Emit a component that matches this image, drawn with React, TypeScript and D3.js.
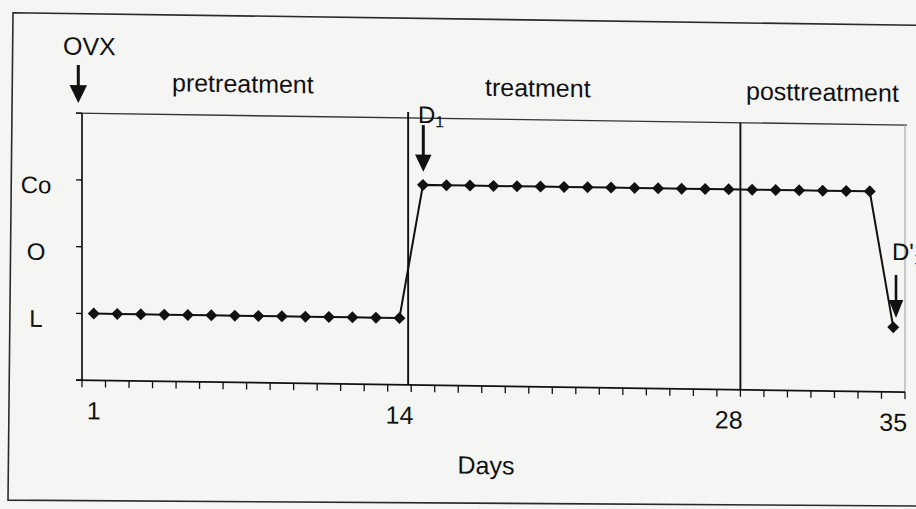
import React from 'react';
import * as d3 from 'd3';

// ---- data ----
const days = [1,2,3,4,5,6,7,8,9,10,11,12,13,14,15,16,17,18,19,20,21,22,23,24,25,26,27,28,29,30,31,32,33,34,35];
const values = [1,1,1,1,1,1,1,1,1,1,1,1,1,1, 3,3,3,3,3,3,3,3,3,3,3,3,3,3,3,3,3,3,3,3, 0.97];
const yLevels = [1, 2, 3];
const yLabels = ['L', 'O', 'Co'];
const yTickLevels = [0, 1, 2, 3, 4];
const xTickDays = [1, 14, 28, 35];
const phaseNames = ['pretreatment', 'treatment', 'posttreatment'];
const phaseBounds = [14.37, 28.5];

const FONT = "'Liberation Sans', Arial, Helvetica, sans-serif";
const INK = '#111111';

function Arrow({ x, y1, y2, headLen, headW, sw }: { x: number; y1: number; y2: number; headLen: number; headW: number; sw: number }) {
  const hs = y2 - headLen;
  return (
    <g>
      <line x1={x} x2={x} y1={y1} y2={hs + 1} stroke={INK} strokeWidth={sw} />
      <polygon points={`${x - headW / 2},${hs} ${x + headW / 2},${hs} ${x},${y2}`} fill={INK} />
    </g>
  );
}

export default function App() {
  const W = 916, H = 509;
  const left = 82, right = 905, top = 112, bottom = 379;
  const x = d3.scaleBand<number>().domain(days).range([left, right]);
  const xl = d3.scaleLinear().domain([0.5, 35.5]).range([left, right]);
  const y = d3.scaleLinear().domain([0, 4]).range([bottom, top]);
  const cx = (d: number) => (x(d) as number) + x.bandwidth() / 2;
  const linePath = d3.line<number>().x((_, i) => cx(days[i])).y((v) => y(v))(values) as string;
  const diamond = d3.symbol().type(d3.symbolSquare).size(72)() as string;
  const boundaries = d3.range(days.length + 1).map((i) => left + i * x.bandwidth());
  const skew = (Math.atan(0.0145) * 180) / Math.PI;

  return (
    <svg width={W} height={H} style={{ position: 'absolute', left: 0, top: 0 }} fontFamily={FONT}>
      <rect x={0} y={0} width={W} height={H} fill="#f5f5f4" />
      <g transform={`skewY(${skew})`}>
        {/* outer frame */}
        <path d="M1000,12 L13,12.5 L8,500 L1000,492" fill="none" stroke="#2a2a2a" strokeWidth={1.6} />
        {/* plot borders */}
        <line x1={left - 6} x2={right + 2} y1={top} y2={top} stroke="#333" strokeWidth={1.4} />
        <line x1={right} x2={right} y1={top} y2={bottom} stroke="#aaa" strokeWidth={1.2} />
        {/* y axis */}
        <line x1={left} x2={left} y1={top} y2={bottom} stroke={INK} strokeWidth={1.7} />
        {yTickLevels.map((v) => (
          <line key={'yt' + v} x1={left - 6} x2={left} y1={y(v)} y2={y(v)} stroke={INK} strokeWidth={1.4} />
        ))}
        {yLevels.map((v, i) => (
          <text key={'yl' + v} x={36} y={y(v) + 14} textAnchor="middle" fontSize={24} fill={INK}>{yLabels[i]}</text>
        ))}
        {/* x axis */}
        <line x1={left - 6} x2={right} y1={bottom} y2={bottom} stroke={INK} strokeWidth={1.7} />
        {boundaries.map((bx, i) => (
          <line key={'xt' + i} x1={bx} x2={bx} y1={bottom} y2={bottom + 7} stroke={INK} strokeWidth={1.3} />
        ))}
        {xTickDays.map((d) => (
          <text key={'xl' + d} x={cx(d)} y={bottom + 39} textAnchor="middle" fontSize={25} fill={INK}>{d}</text>
        ))}
        <text x={486} y={467} textAnchor="middle" fontSize={25} fill={INK}>Days</text>
        {/* phase boundaries */}
        {phaseBounds.map((b, i) => (
          <line key={'pb' + i} x1={xl(b)} x2={xl(b)} y1={top - (i === 0 ? 6 : 0)} y2={bottom} stroke={INK} strokeWidth={1.9} />
        ))}
        {/* phase labels */}
        <text x={172} y={88.8} fontSize={25} fill={INK}>{phaseNames[0]}</text>
        <text x={485} y={88.8} fontSize={25} fill={INK}>{phaseNames[1]}</text>
        <text x={746} y={88.8} fontSize={25} fill={INK}>{phaseNames[2]}</text>
        {/* series */}
        <path d={linePath} fill="none" stroke={INK} strokeWidth={2} />
        {values.map((v, i) => (
          <path key={'m' + i} d={diamond} transform={`translate(${cx(days[i])},${y(v)}) rotate(45)`} fill={INK} />
        ))}
        {/* annotations */}
        <text x={63} y={53.7} fontSize={25} fill={INK}>OVX</text>
        <Arrow x={78.3} y1={63.9} y2={101.9} headLen={18} headW={17.5} sw={3} />
        <text x={418} y={117} fontSize={24} fill={INK}>D<tspan fontSize={16} dy={4}>1</tspan></text>
        <Arrow x={423.3} y1={119} y2={165.5} headLen={17} headW={16.5} sw={3} />
        <text x={892} y={247} fontSize={24} fill={INK}>D'<tspan fontSize={16} dy={4}>1</tspan></text>
        <Arrow x={896} y1={262} y2={305} headLen={18} headW={14.5} sw={2.6} />
      </g>
    </svg>
  );
}
